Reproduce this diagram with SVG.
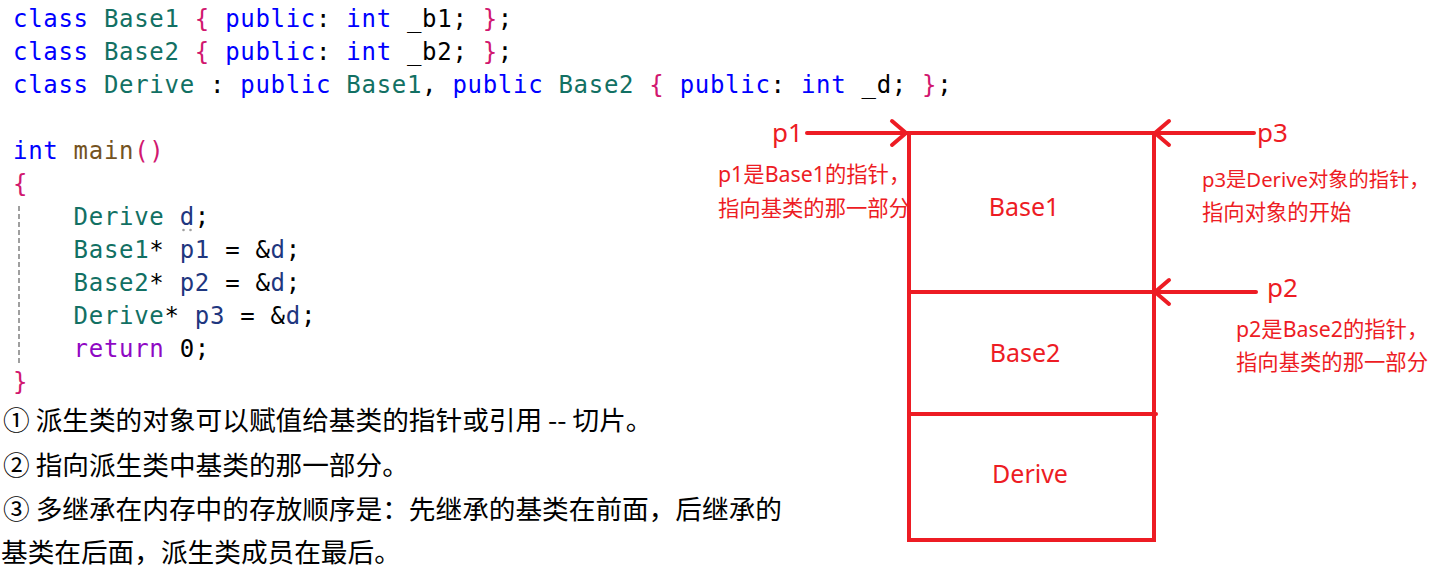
<svg xmlns="http://www.w3.org/2000/svg" width="1431" height="570" viewBox="0 0 1431 570">
<style>
.code{font-family:"DejaVu Sans Mono",monospace;font-size:24px;letter-spacing:0.7px;fill:#000;white-space:pre}
.kw{fill:#0000ff}.ty{fill:#127063}.br{fill:#d1176f}.fn{fill:#74531f}.va{fill:#1f377f}.ctl{fill:#8f08c4}
.note{font-family:"Noto Sans CJK SC","Noto Sans",sans-serif;font-size:26.67px;fill:#000}
.red{font-family:"Noto Sans","Noto Sans CJK SC",sans-serif;fill:#ed1c24}
.lbl{font-size:26px}.box{font-size:25px}.ann{font-size:21.33px}
.edge{stroke:#ed1c24;stroke-width:4;fill:none;stroke-linecap:round}
</style>
<defs>
<marker id="chev" viewBox="0 0 20 28" markerWidth="20" markerHeight="28" refX="17" refY="14" markerUnits="userSpaceOnUse" orient="auto" overflow="visible">
<path d="M3,2 L17,14 L3,26" fill="none" stroke="#ed1c24" stroke-width="4" stroke-linecap="round" stroke-linejoin="round"/>
</marker>
</defs>
<rect width="1431" height="570" fill="#fff"/>
<g id="code">
<text class="code" x="13" y="27" xml:space="preserve"><tspan class="kw">class</tspan> <tspan class="ty">Base1</tspan> <tspan class="br">{</tspan> <tspan class="kw">public</tspan>: <tspan class="kw">int</tspan> _b1; <tspan class="br">}</tspan>;</text>
<text class="code" x="13" y="60" xml:space="preserve"><tspan class="kw">class</tspan> <tspan class="ty">Base2</tspan> <tspan class="br">{</tspan> <tspan class="kw">public</tspan>: <tspan class="kw">int</tspan> _b2; <tspan class="br">}</tspan>;</text>
<text class="code" x="13" y="93" xml:space="preserve"><tspan class="kw">class</tspan> <tspan class="ty">Derive</tspan> : <tspan class="kw">public</tspan> <tspan class="ty">Base1</tspan>, <tspan class="kw">public</tspan> <tspan class="ty">Base2</tspan> <tspan class="br">{</tspan> <tspan class="kw">public</tspan>: <tspan class="kw">int</tspan> _d; <tspan class="br">}</tspan>;</text>
<text class="code" x="13" y="159" xml:space="preserve"><tspan class="kw">int</tspan> <tspan class="fn">main</tspan><tspan class="br">()</tspan></text>
<text class="code" x="13" y="192" xml:space="preserve"><tspan class="br">{</tspan></text>
<text class="code" x="13" y="225" xml:space="preserve">    <tspan class="ty">Derive</tspan> <tspan class="va">d</tspan>;</text>
<text class="code" x="13" y="258" xml:space="preserve">    <tspan class="ty">Base1</tspan>* <tspan class="va">p1</tspan> = &amp;<tspan class="va">d</tspan>;</text>
<text class="code" x="13" y="291" xml:space="preserve">    <tspan class="ty">Base2</tspan>* <tspan class="va">p2</tspan> = &amp;<tspan class="va">d</tspan>;</text>
<text class="code" x="13" y="324" xml:space="preserve">    <tspan class="ty">Derive</tspan>* <tspan class="va">p3</tspan> = &amp;<tspan class="va">d</tspan>;</text>
<text class="code" x="13" y="357" xml:space="preserve">    <tspan class="ctl">return</tspan> 0;</text>
<text class="code" x="13" y="390" xml:space="preserve"><tspan class="br">}</tspan></text>
<line x1="19" y1="206" x2="19" y2="364" stroke="#808080" stroke-width="1.5" stroke-dasharray="5 3"/>
<circle cx="183.5" cy="230" r="1.3" fill="#a0a0a0"/>
<circle cx="190.5" cy="230" r="1.3" fill="#a0a0a0"/>
</g>
<g id="notes">
<text class="note" x="3" y="430">① 派生类的对象可以赋值给基类的指针或引用 -- 切片。</text>
<text class="note" x="3" y="475">② 指向派生类中基类的那一部分。</text>
<text class="note" x="3" y="519">③ 多继承在内存中的存放顺序是：先继承的基类在前面，后继承的</text>
<text class="note" x="1" y="562">基类在后面，派生类成员在最后。</text>
</g>
<g id="memory">
<g id="base1">
<text class="red box" x="1024" y="216" text-anchor="middle">Base1</text>
</g>
<g id="base2">
<text class="red box" x="1025" y="362" text-anchor="middle">Base2</text>
</g>
<g id="derive">
<text class="red box" x="1030" y="483" text-anchor="middle">Derive</text>
</g>
<rect x="909" y="133" width="245" height="407" class="edge" stroke-linecap="butt"/>
<line x1="909" y1="292" x2="1154" y2="292" class="edge"/>
<line x1="909" y1="414" x2="1156" y2="414" class="edge"/>
</g>
<g id="p1">
<text class="red lbl" x="772" y="142">p1</text>
<text class="red ann" x="718" y="182">p1是Base1的指针，</text>
<text class="red ann" x="718" y="216">指向基类的那一部分</text>
</g>
<g id="p3">
<text class="red lbl" x="1257" y="142">p3</text>
<text class="red ann" x="1202" y="187" style="font-size:20.3px">p3是Derive对象的指针，</text>
<text class="red ann" x="1202" y="220">指向对象的开始</text>
</g>
<g id="p2">
<text class="red lbl" x="1267" y="297">p2</text>
<text class="red ann" x="1236" y="337">p2是Base2的指针，</text>
<text class="red ann" x="1236" y="370">指向基类的那一部分</text>
</g>
<g id="connectors">
<line x1="807" y1="133" x2="906" y2="133" class="edge" marker-end="url(#chev)"/>
<line x1="1254" y1="133" x2="1155" y2="133" class="edge" marker-end="url(#chev)"/>
<line x1="1256" y1="292" x2="1155" y2="292" class="edge" marker-end="url(#chev)"/>
</g>
</svg>
